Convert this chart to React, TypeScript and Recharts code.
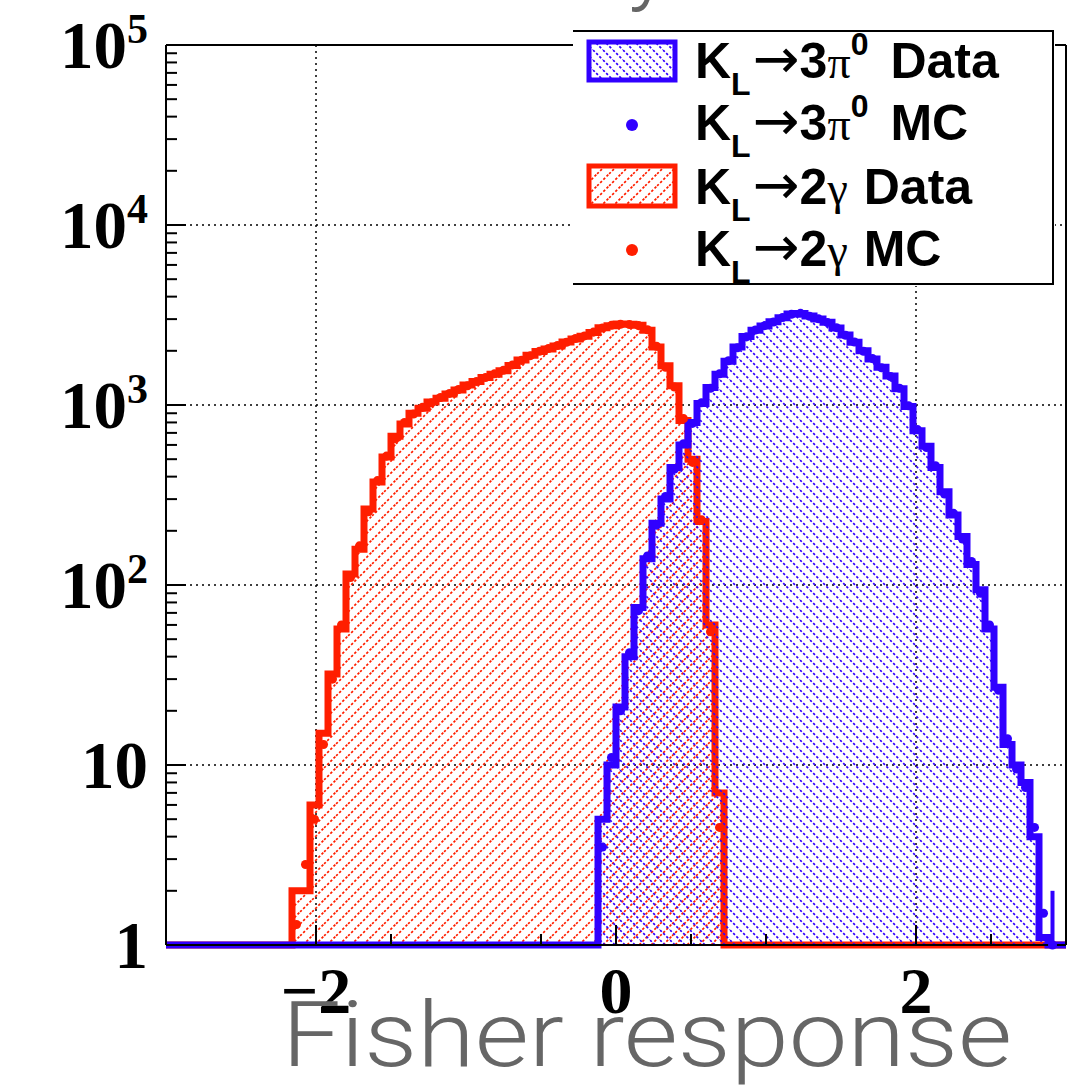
import {
  Area,
  CartesianGrid,
  ComposedChart,
  ErrorBar,
  Legend,
  ReferenceLine,
  Scatter,
  XAxis,
  YAxis,
} from 'recharts';

const RED = '#ff1e00';
const BLUE = '#3000ff';

// binning of the Fisher response histograms
const binStart = -3;
const binWidth = 0.06;
const binCount = 100;

// K_L -> 2 gamma, first non-empty bin and counts per bin
const redFirstBin = 14;
const redData = [
  2, 2, 6, 15, 32, 57, 115, 158, 264, 374, 515, 670, 785, 900, 960, 1040, 1090, 1150, 1210, 1290,
  1350, 1420, 1480, 1550, 1660, 1780, 1890, 1980, 2050, 2130, 2240, 2330, 2410, 2530, 2690, 2760,
  2820, 2810, 2770, 2600, 2100, 1650, 1280, 820, 500, 225, 60, 7,
];
const redMc = [
  1.3, 2.8, 5, 13, 30, 60, 110, 165, 255, 380, 520, 650, 800, 890, 970, 1030, 1100, 1160, 1220,
  1280, 1350, 1420, 1490, 1560, 1670, 1770, 1880, 1990, 2060, 2140, 2230, 2340, 2420, 2540, 2680,
  2770, 2810, 2800, 2760, 2620, 2120, 1620, 1260, 840, 480, 230, 55, 4.5,
];

// K_L -> 3 pi0
const blueFirstBin = 48;
const blueData = [
  5, 10, 21, 40, 75, 140, 220, 300, 450, 600, 800, 1020, 1250, 1480, 1750, 2100, 2400, 2600, 2750,
  2900, 3050, 3200, 3220, 3120, 3000, 2880, 2680, 2450, 2230, 2000, 1800, 1620, 1450, 1230, 980,
  720, 590, 450, 330, 245, 186, 130, 94, 57, 27, 13, 10, 8, 4, 1.1,
];
const blueMc = [
  3.5, 11, 20, 42, 72, 145, 215, 310, 440, 610, 790, 1030, 1240, 1490, 1760, 2080, 2390, 2610,
  2760, 2890, 3060, 3190, 3230, 3110, 3010, 2870, 2690, 2440, 2240, 1990, 1810, 1610, 1440, 1240,
  990, 730, 580, 460, 320, 250, 180, 135, 90, 60, 26, 14, 9.5, 7.5, 4.5, 1.5, 1,
];
// upper error of the last blue MC bins (aligned to the end of blueMc)
const blueMcTailErr = [0, 0, 0, 0, 1];

const yLabelTicks = [1, 10, 100, 1000, 10000, 100000];
const yMinorSteps = [2, 3, 4, 5, 6, 7, 8, 9];
const yGridTicks = [10, 100, 1000, 10000];
const xLabelTicks = [-2, 0, 2];
const xMinorTicks = [-1.5, -0.5, 0.5, 1, 2.5];
const xGridTicks = [-2, 2];

const yTicks = [
  ...yLabelTicks.slice(0, -1).flatMap((d) => [d, ...yMinorSteps.map((m) => m * d)]),
  100000,
];
const xTicks = [...xLabelTicks, ...xMinorTicks].sort((a, b) => a - b);

// empty bins sit on the floor of the log axis
const countAt = (series: number[], first: number, k: number) => {
  const v = series[k - first];
  return v && v > 0 ? v : 1;
};

const histTable = Array.from({ length: binCount + 1 }, (_, k) => {
  const bin = Math.min(k, binCount - 1);
  return {
    x: binStart + k * binWidth,
    red: countAt(redData, redFirstBin, bin),
    blue: countAt(blueData, blueFirstBin, bin),
  };
});

const mcPoints = (series: number[], first: number, tailErr: number[] = []) =>
  series.map((y, i) => {
    const fromEnd = series.length - i;
    const up = fromEnd <= tailErr.length ? tailErr[tailErr.length - fromEnd] : 0;
    return { x: binStart + (first + i + 0.5) * binWidth, y, err: [0, up] };
  });

const redMcPoints = mcPoints(redMc, redFirstBin);
const blueMcPoints = mcPoints(blueMc, blueFirstBin, blueMcTailErr);

const serifBold = {
  fontFamily: "'Liberation Serif', 'Times New Roman', serif",
  fontWeight: 'bold' as const,
};
const sansBold = {
  fontFamily: "'Liberation Sans', Arial, Helvetica, sans-serif",
  fontWeight: 'bold' as const,
};

function YTick(props: any) {
  const { x, y, payload } = props;
  const v = payload.value;
  const major = yLabelTicks.includes(v);
  const exp = Math.round(Math.log10(v));
  return (
    <g>
      <line x1={x} x2={x + (major ? 20 : 11)} y1={y} y2={y} stroke="#000" strokeWidth={2} />
      {major && (
        <text x={x - 18} y={y + 23} textAnchor="end" fontSize={67} fill="#000" {...serifBold}>
          {exp < 2 ? (
            String(v)
          ) : (
            <>
              10
              <tspan fontSize={42} dy={-25}>
                {exp}
              </tspan>
            </>
          )}
        </text>
      )}
    </g>
  );
}

function XTick(props: any) {
  const { x, y, payload } = props;
  const v = payload.value;
  const major = xLabelTicks.includes(v);
  return (
    <g>
      <line x1={x} x2={x} y1={y} y2={y - (major ? 20 : 11)} stroke="#000" strokeWidth={2} />
      {major && (
        <text x={x} y={y + 68} textAnchor="middle" fontSize={66} fill="#000" {...serifBold}>
          {v < 0 ? `\u2212${-v}` : String(v)}
        </text>
      )}
    </g>
  );
}

function HatchDefs({ prefix }: { prefix: string }) {
  return (
    <defs>
      <pattern id={`${prefix}Red`} patternUnits="userSpaceOnUse" width={12} height={12}>
        <path
          d="M-3,3 L3,-3 M0,12 L12,0 M9,15 L15,9"
          stroke={RED}
          strokeWidth={1.7}
          strokeDasharray="2.5 2"
        />
      </pattern>
      <pattern id={`${prefix}Blue`} patternUnits="userSpaceOnUse" width={10} height={10}>
        <path
          d="M-3,7 L3,13 M0,0 L10,10 M7,-3 L13,3"
          stroke={BLUE}
          strokeWidth={1.7}
          strokeDasharray="2.5 2"
        />
      </pattern>
    </defs>
  );
}

function LegendRow({ y, target, label }: { y: number; target: string; label: string }) {
  return (
    <text x={122} y={y} fontSize={50} fill="#000" {...sansBold}>
      K
      <tspan fontSize={32} dy={17}>
        L
      </tspan>
      <tspan dy={-17} dx={2} fontFamily="'DejaVu Sans', sans-serif" fontWeight="normal" fontSize={56}>
        {'\u2192'}
      </tspan>
      {target === 'pi' ? (
        <>
          3
          <tspan fontFamily="'Liberation Serif', serif" fontWeight="normal" fontSize={46}>
            {'\u03c0'}
          </tspan>
          <tspan fontSize={32} dy={-23}>
            0
          </tspan>
          <tspan dy={23} dx={22}>
            {label}
          </tspan>
        </>
      ) : (
        <>
          2
          <tspan fontFamily="'Liberation Serif', serif" fontWeight="normal" fontSize={46}>
            {'\u03b3'}
          </tspan>
          <tspan dx={16}>{label}</tspan>
        </>
      )}
    </text>
  );
}

function LegendBox() {
  return (
    <svg width={482} height={256} style={{ display: 'block' }}>
      <HatchDefs prefix="leg" />
      <rect x={0} y={0} width={482} height={256} fill="#fff" />
      <polyline points="0,1 480,1 480,254 0,254" fill="none" stroke="#000" strokeWidth={2} />
      <rect x={16} y={12} width={86} height={38} fill="url(#legBlue)" stroke={BLUE} strokeWidth={5} />
      <LegendRow y={48} target="pi" label="Data" />
      <circle cx={59} cy={95} r={6} fill={BLUE} />
      <LegendRow y={110} target="pi" label="MC" />
      <rect x={16} y={136} width={86} height={40} fill="url(#legRed)" stroke={RED} strokeWidth={5} />
      <LegendRow y={174} target="gamma" label="Data" />
      <circle cx={59} cy={220} r={6} fill={RED} />
      <LegendRow y={236} target="gamma" label="MC" />
    </svg>
  );
}

export default function App() {
  return (
    <div style={{ position: 'relative', width: 1072, height: 1086, background: '#fff' }}>
      <style>{'body{margin:0}'}</style>
      <ComposedChart
        width={1072}
        height={1086}
        data={histTable}
        margin={{ top: 45, right: 6, bottom: 81, left: 66 }}
      >
        <HatchDefs prefix="plot" />
        <CartesianGrid
          verticalValues={xGridTicks}
          horizontalValues={yGridTicks}
          stroke="#000"
          strokeWidth={1.5}
          strokeDasharray="2 4"
        />
        <XAxis
          dataKey="x"
          type="number"
          domain={[-3, 3]}
          ticks={xTicks}
          interval={0}
          tick={XTick}
          tickLine={false}
          tickSize={0}
          tickMargin={0}
          height={60}
          axisLine={{ stroke: '#000', strokeWidth: 2 }}
        />
        <YAxis
          type="number"
          scale="log"
          domain={[1, 100000]}
          ticks={yTicks}
          interval={0}
          tick={YTick}
          tickLine={false}
          tickSize={0}
          tickMargin={0}
          width={100}
          axisLine={{ stroke: '#000', strokeWidth: 2 }}
        />
        <ReferenceLine y={100000} stroke="#000" strokeWidth={2} />
        <ReferenceLine x={3} stroke="#000" strokeWidth={2} />
        <Area
          type="stepAfter"
          dataKey="red"
          stroke={RED}
          strokeWidth={7}
          fill="url(#plotRed)"
          fillOpacity={1}
          dot={false}
          activeDot={false}
          isAnimationActive={false}
        />
        <Area
          type="stepAfter"
          dataKey="blue"
          stroke={BLUE}
          strokeWidth={7}
          fill="url(#plotBlue)"
          fillOpacity={1}
          dot={false}
          activeDot={false}
          isAnimationActive={false}
        />
        <Scatter data={redMcPoints} dataKey="y" fill={RED} isAnimationActive={false} />
        <Scatter data={blueMcPoints} dataKey="y" fill={BLUE} isAnimationActive={false}>
          <ErrorBar dataKey="err" direction="y" width={0} stroke={BLUE} strokeWidth={4} />
        </Scatter>
        <Legend
          layout="vertical"
          align="center"
          verticalAlign="middle"
          content={LegendBox}
          wrapperStyle={{ left: 573, top: 30, width: 482, height: 256, margin: 0, padding: 0 }}
        />
      </ComposedChart>
      <svg
        width={1072}
        height={1086}
        style={{ position: 'absolute', left: 0, top: 0, pointerEvents: 'none' }}
      >
        <text x={628} y={-7} fontSize={90} fill="#666" fontFamily="Roboto, sans-serif" fontWeight={300}>
          y
        </text>
        <text
          x={282}
          y={1066}
          fontSize={90}
          fill="#666"
          fontFamily="Roboto, sans-serif"
          fontWeight={300}
          textLength={730}
          lengthAdjust="spacingAndGlyphs"
        >
          Fisher response
        </text>
      </svg>
    </div>
  );
}
